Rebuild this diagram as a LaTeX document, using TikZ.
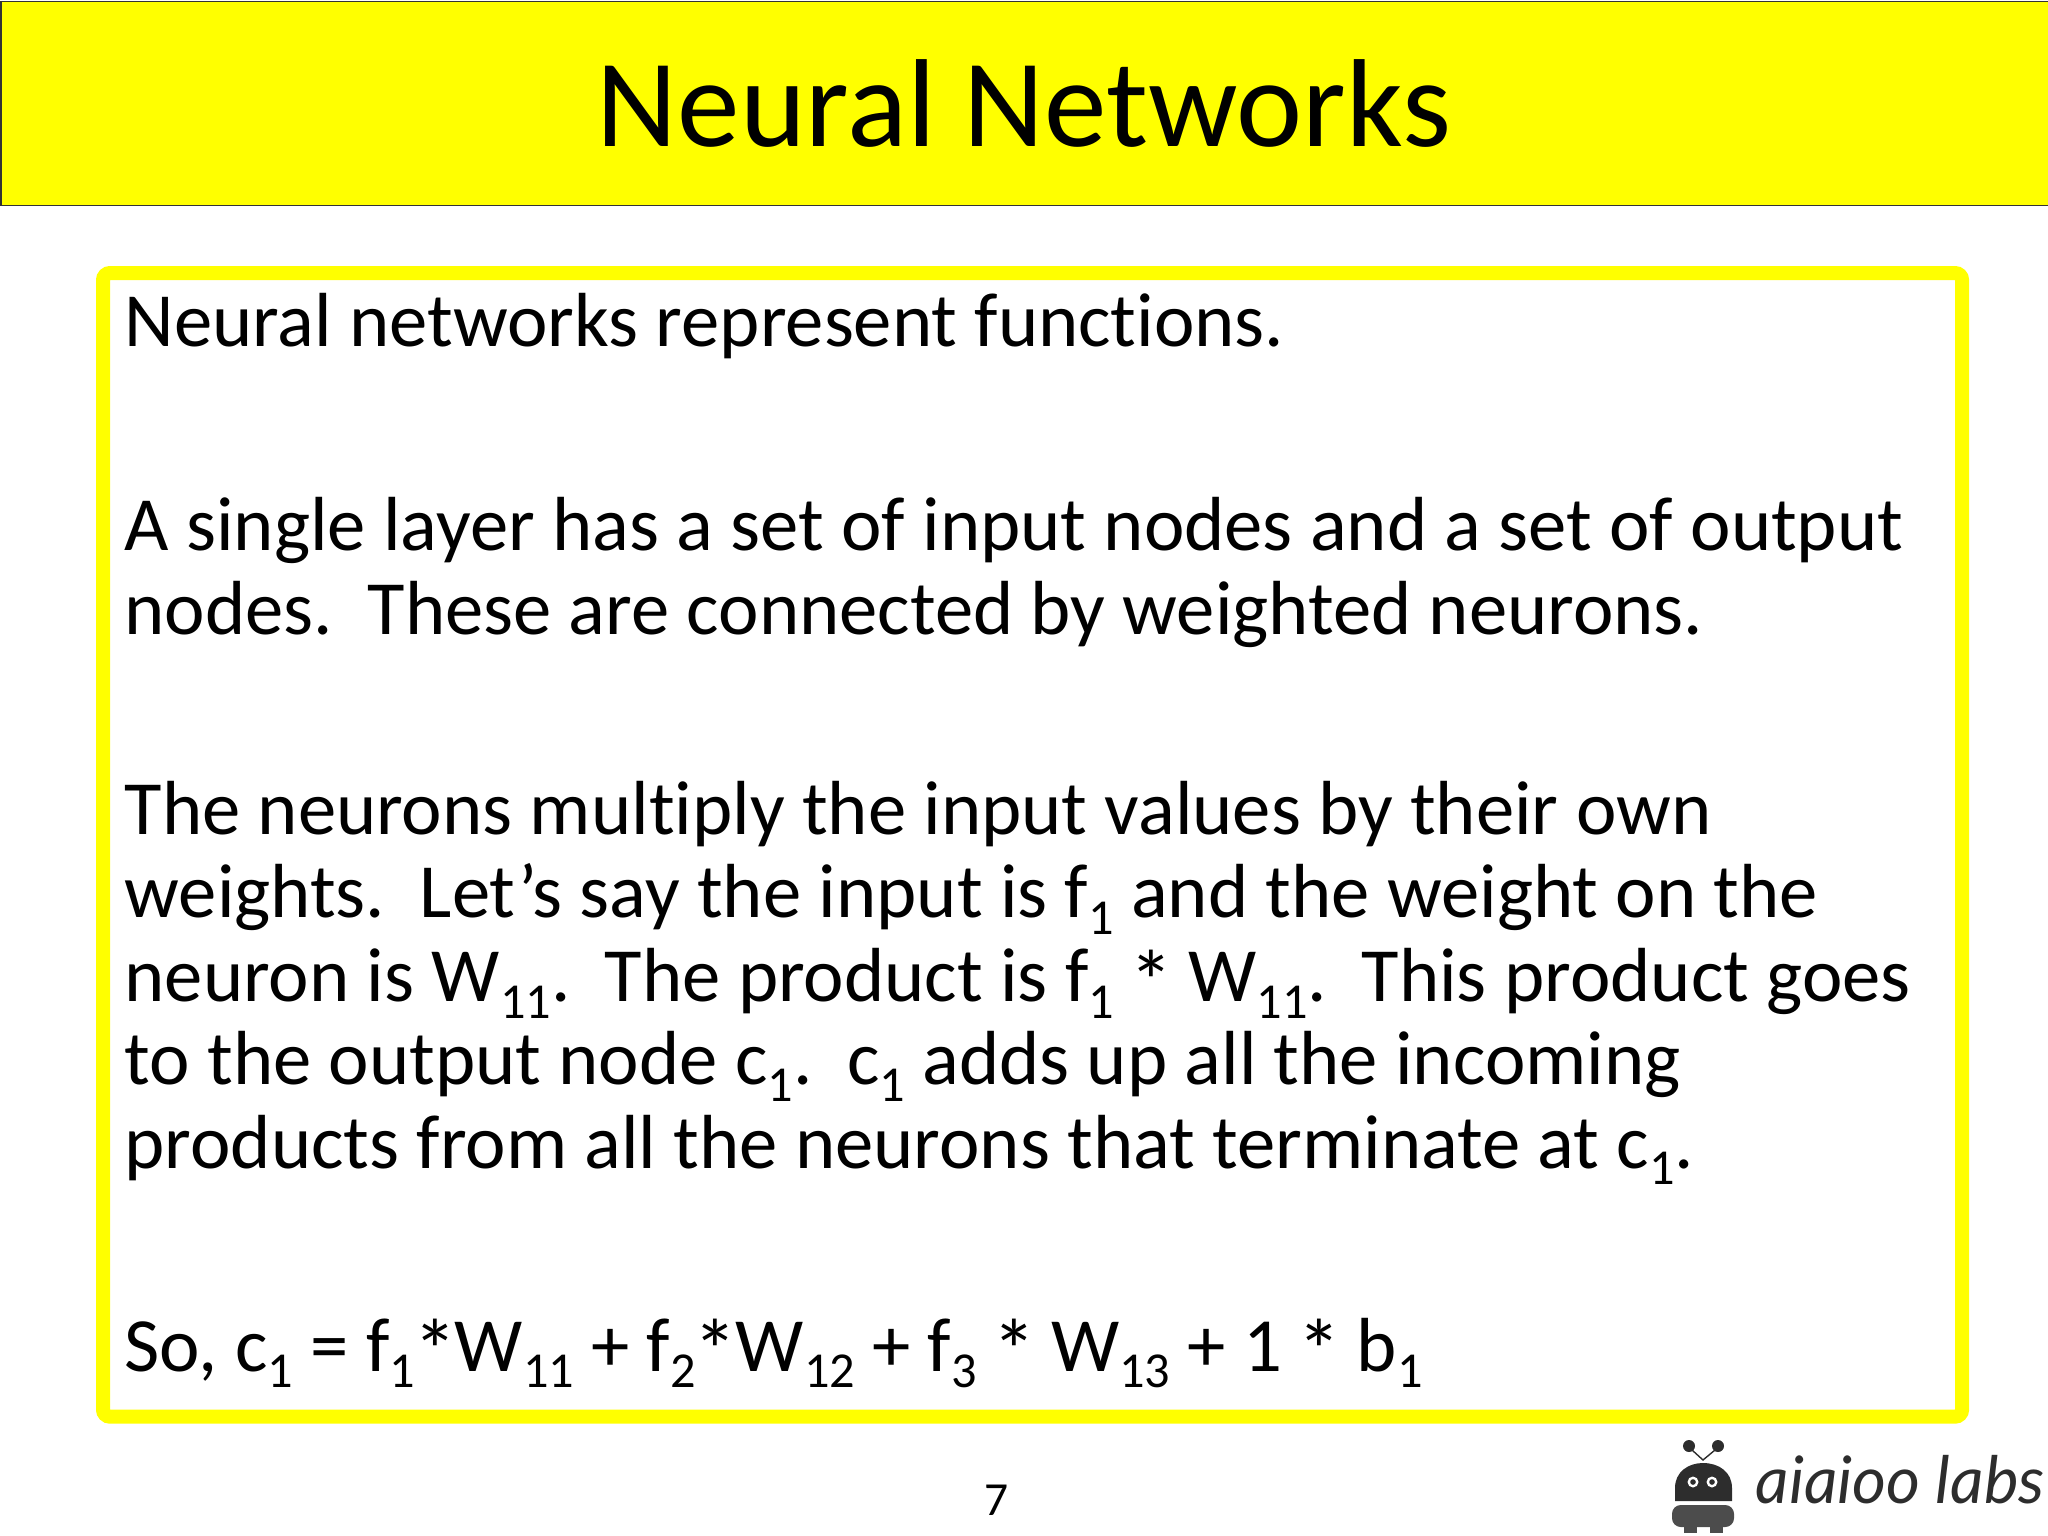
\documentclass[tikz,border=0pt]{standalone}
\usepackage{fontspec}
\setmainfont[Ligatures=NoCommon]{Carlito}
\newfontfamily\logofont{Lato}
\usetikzlibrary{positioning, calc}
\definecolor{titleyellow}{RGB}{255,255,0}
\definecolor{logogrey}{RGB}{45,45,45}
\newcommand{\subidx}[1]{\raisebox{-0.22em}{\fontsize{14.3pt}{14.3pt}\selectfont #1}}
\newcommand{\starmark}{\kern-0.55pt\raisebox{-0.14em}{\fontsize{25pt}{25pt}\selectfont *}\kern-0.55pt}
\tikzset{
    bodytext/.style={anchor=base west, inner sep=0pt, align=left, font=\fontsize{21.8pt}{23.7pt}\selectfont},
    logopart/.style={fill=logogrey, draw=none}
}
\begin{document}
\begin{tikzpicture}[x=0.01cm, y=-0.01cm]
        \useasboundingbox (0,0) rectangle (2048,1536);

        % Title bar
        \node (TitleBar) [draw=black!80, fill=titleyellow, line width=0.4pt, anchor=north west, minimum width=20.46cm, minimum height=2.04cm, inner sep=0pt] at (0.5,0.5) {};
        \node (Title) [font=\fontsize{35.6pt}{40pt}\selectfont, anchor=base] at (1024,146) {Neural Networks};

        % Text frame
        \node (TextFrame) [draw=titleyellow, line width=14*0.2845pt, rounded corners=2pt, anchor=north west, minimum width=18.58cm, minimum height=11.43cm, inner sep=0pt] at (96,266) {};

        % Paragraphs
        \node (ParaOne) [bodytext] at (124,346) {Neural networks represent functions.};
        \node (ParaTwo) [bodytext] at (124,634) {A single layer has a set of input nodes and a set of output\\nodes.\ \ These are connected by weighted neurons.};
        \node (ParaThree) [bodytext] at (124,1168) {The neurons multiply the input values by their own\\weights.\ \ Let’s say the input is f\subidx{1} and the weight on the\\neuron is W\subidx{11}.\ \ The product is f\subidx{1} \starmark{} W\subidx{11}.\ \ This product goes\\to the output node c\subidx{1}.\ \ c\subidx{1} adds up all the incoming\\products from all the neurons that terminate at c\subidx{1}.};
        \node (ParaFour) [bodytext] at (124,1371) {So, c\subidx{1} = f\subidx{1}\starmark{}W\subidx{11} + f\subidx{2}\starmark{}W\subidx{12} + f\subidx{3} \starmark{} W\subidx{13} + 1 \starmark{} b\subidx{1}};

        % Page number
        \node (PageNum) [font=\fontsize{13.5pt}{15pt}\selectfont, anchor=base] at (997,1515) {7};

        % Logo
        \fill[logopart] (1689,1446) circle (6);
        \fill[logopart] (1718,1446) circle (6);
        \draw[logogrey, line width=0.4pt] (1692,1450) -- (1703,1460) -- (1715,1450);
        \fill[logopart] (1675,1501) -- (1675,1488) .. controls (1675,1472) and (1688,1463) .. (1703,1463) .. controls (1719,1463) and (1732,1472) .. (1732,1488) -- (1732,1501) -- cycle;
        \fill[white] (1693,1482) circle (5.5);
        \fill[white] (1712,1482) circle (5.5);
        \fill[logopart] (1693,1482) circle (2.8);
        \fill[logopart] (1712,1482) circle (2.8);
        \fill[logopart, rounded corners=2.5pt, fill=logogrey!85] (1672,1505) rectangle (1734,1527);
        \fill[logopart, fill=logogrey!85] (1684,1525) rectangle (1697,1533);
        \fill[logopart, fill=logogrey!85] (1710,1525) rectangle (1723,1533);
        \node (LogoText) [font=\logofont\itshape\fontsize{18.6pt}{22pt}\selectfont, anchor=base west, inner sep=0pt, text=logogrey] at (1755,1503) {aiaioo labs};
\end{tikzpicture}
\end{document}
